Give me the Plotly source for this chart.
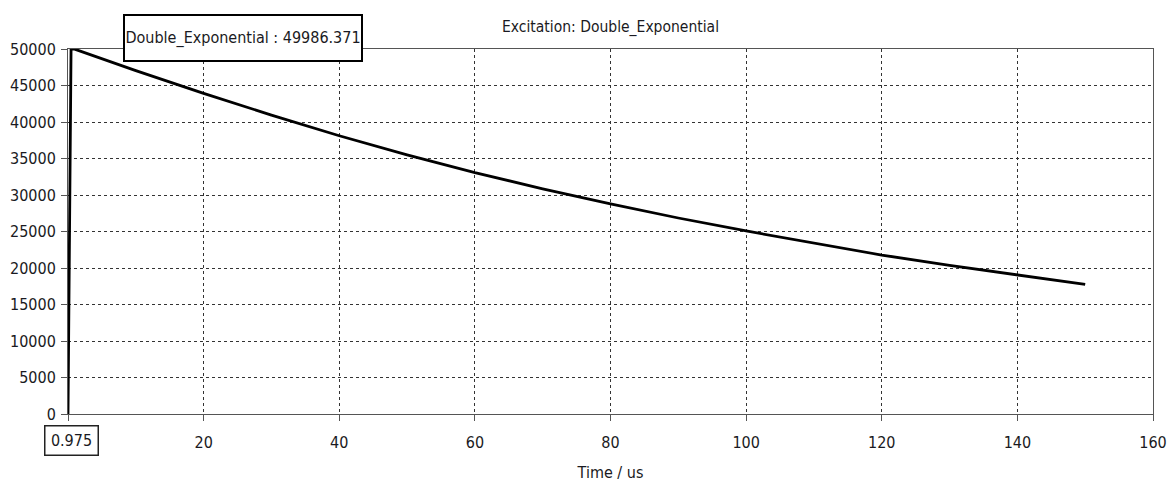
import plotly.graph_objects as go

# Double-exponential excitation waveform (time in microseconds)
time_us = [0, 0.45, 0.975, 5, 10, 20, 30, 40, 50, 60, 70, 80, 90,
           100, 110, 120, 130, 140, 150]
amplitude = [0, 49990, 49986.371, 48640, 47040, 43930, 40950, 38120, 35500, 33060,
             30850, 28770, 26850, 25070, 23400, 21780, 20350, 19040, 17750]

x_ticks = [0, 20, 40, 60, 80, 100, 120, 140, 160]
x_tick_text = ["", "20", "40", "60", "80", "100", "120", "140", "160"]
y_ticks = [0, 5000, 10000, 15000, 20000, 25000, 30000, 35000, 40000, 45000, 50000]

series_name = "Double_Exponential"
cursor_time = 0.975
cursor_value = 49986.371

FONT = "DejaVu Sans Condensed"
INK = "#1a1a22"
AXIS = "#555555"

W, H = 1168, 482
L, R, T, B = 67.5, 15, 49, 67.5
PW, PH = W - L - R, H - T - B


def px_to_paper(px, py):
    return (px - L) / PW, (H - B - py) / PH


fig = go.Figure()
fig.add_trace(go.Scatter(
    x=time_us, y=amplitude, mode="lines", name=series_name,
    line=dict(color="black", width=2.8), showlegend=False,
))

axis_common = dict(
    showline=True, linecolor=AXIS, linewidth=1, mirror=True,
    ticks="outside", ticklen=6, tickcolor=AXIS, tickwidth=1,
    showgrid=True, gridcolor="#333333", gridwidth=1, griddash="3px,3px",
    zeroline=False, automargin=False,
    tickfont=dict(family=FONT, size=16, color=INK),
)

fig.update_xaxes(
    range=[0, 160], tickvals=x_ticks, ticktext=x_tick_text,
    ticklabelstandoff=8,
    title=dict(text="Time / us", font=dict(family=FONT, size=16, color=INK), standoff=18),
    **axis_common,
)
fig.update_yaxes(
    range=[0, 50000], tickvals=y_ticks, tickformat="d",
    ticklabelstandoff=2,
    **axis_common,
)

ax, ay = px_to_paper(610.5, 27)
fig.add_annotation(
    text="Excitation: Double_Exponential", xref="paper", yref="paper",
    x=ax, y=ay, xanchor="center", yanchor="middle", showarrow=False,
    font=dict(family=FONT, size=15.5, color=INK),
)

bx, by = px_to_paper(242.5, 37.5)
fig.add_annotation(
    text=f"{series_name} : {cursor_value:.3f}", xref="paper", yref="paper",
    x=bx, y=by, xanchor="center", yanchor="middle", showarrow=False,
    width=236, height=44, borderpad=0, bordercolor="black", borderwidth=2,
    bgcolor="white", font=dict(family=FONT, size=16, color=INK),
)

cx, cy = px_to_paper(71.5, 441.5)
fig.add_annotation(
    text=f"{cursor_time}", xref="paper", yref="paper",
    x=cx, y=cy, xanchor="center", yanchor="middle", showarrow=False,
    width=52, height=28, borderpad=0, bordercolor="#222222", borderwidth=1.5,
    bgcolor="white", font=dict(family=FONT, size=16, color=INK),
)

fig.update_layout(
    width=W, height=H,
    margin=dict(l=L, r=R, t=T, b=B, autoexpand=False),
    paper_bgcolor="white", plot_bgcolor="white",
)

fig.write_html("out.html")
